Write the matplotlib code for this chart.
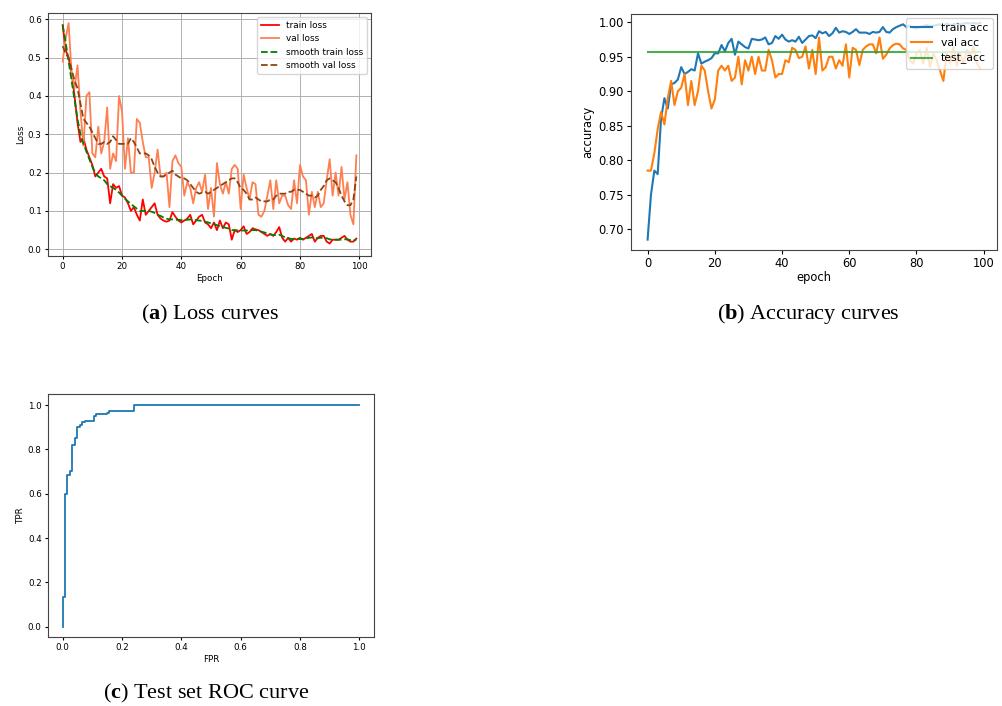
import matplotlib
matplotlib.use('Agg')
import matplotlib.pyplot as plt
import numpy as np

plt.rcParams['mathtext.fontset'] = 'custom'
plt.rcParams['mathtext.rm'] = 'Liberation Serif'
plt.rcParams['mathtext.bf'] = 'Liberation Serif:bold'

# ---- loss curves ----
train_loss = [0.585, 0.52, 0.50, 0.46, 0.40, 0.33, 0.28, 0.29, 0.26, 0.24,
              0.22, 0.19, 0.20, 0.21, 0.19, 0.185, 0.12, 0.17, 0.16, 0.165,
              0.14, 0.135, 0.12, 0.10, 0.11, 0.09, 0.075, 0.13, 0.09, 0.10,
              0.11, 0.12, 0.09, 0.08, 0.075, 0.072, 0.075, 0.097, 0.085, 0.075,
              0.07, 0.075, 0.08, 0.09, 0.065, 0.075, 0.085, 0.09, 0.07, 0.065,
              0.055, 0.07, 0.05, 0.075, 0.055, 0.07, 0.065, 0.025, 0.05, 0.045,
              0.05, 0.06, 0.04, 0.045, 0.055, 0.052, 0.05, 0.045, 0.04, 0.035,
              0.04, 0.035, 0.045, 0.058, 0.03, 0.02, 0.03, 0.02, 0.028, 0.025,
              0.03, 0.025, 0.03, 0.035, 0.04, 0.02, 0.03, 0.035, 0.035, 0.02,
              0.015, 0.025, 0.025, 0.025, 0.03, 0.035, 0.025, 0.02, 0.02, 0.028]
val_loss = [0.49, 0.55, 0.59, 0.46, 0.42, 0.48, 0.36, 0.27, 0.40, 0.41,
            0.25, 0.24, 0.32, 0.25, 0.28, 0.37, 0.21, 0.25, 0.23, 0.40,
            0.36, 0.21, 0.29, 0.20, 0.20, 0.34, 0.33, 0.28, 0.24, 0.24,
            0.16, 0.20, 0.26, 0.19, 0.19, 0.20, 0.11, 0.23, 0.245, 0.225,
            0.215, 0.14, 0.175, 0.16, 0.12, 0.16, 0.175, 0.15, 0.195, 0.105,
            0.16, 0.085, 0.225, 0.17, 0.145, 0.175, 0.145, 0.21, 0.22, 0.21,
            0.105, 0.195, 0.16, 0.13, 0.175, 0.17, 0.09, 0.085, 0.10, 0.14,
            0.18, 0.105, 0.18, 0.12, 0.14, 0.14, 0.115, 0.105, 0.18, 0.12,
            0.22, 0.19, 0.18, 0.09, 0.15, 0.11, 0.15, 0.11, 0.12, 0.18,
            0.235, 0.14, 0.20, 0.14, 0.215, 0.13, 0.175, 0.09, 0.065, 0.245]
smooth_train = [0.585, 0.54, 0.49, 0.44, 0.39, 0.34, 0.30, 0.275, 0.255, 0.235,
                0.215, 0.20, 0.19, 0.185, 0.18, 0.17, 0.165, 0.16, 0.155, 0.148,
                0.14, 0.132, 0.125, 0.118, 0.112, 0.106, 0.10, 0.10, 0.10, 0.10,
                0.098, 0.095, 0.09, 0.087, 0.083, 0.08, 0.078, 0.078, 0.077, 0.077,
                0.076, 0.076, 0.077, 0.078, 0.077, 0.076, 0.075, 0.074, 0.072, 0.07,
                0.068, 0.066, 0.063, 0.06, 0.058, 0.056, 0.054, 0.05, 0.05, 0.049,
                0.049, 0.049, 0.049, 0.049, 0.05, 0.05, 0.048, 0.046, 0.044, 0.041,
                0.039, 0.037, 0.037, 0.038, 0.035, 0.031, 0.029, 0.027, 0.027, 0.027,
                0.027, 0.027, 0.028, 0.03, 0.031, 0.029, 0.029, 0.03, 0.03, 0.029,
                0.026, 0.025, 0.025, 0.025, 0.025, 0.026, 0.026, 0.024, 0.023, 0.025]
smooth_val = [0.53, 0.51, 0.50, 0.47, 0.44, 0.42, 0.38, 0.34, 0.33, 0.32,
              0.305, 0.29, 0.275, 0.275, 0.28, 0.275, 0.28, 0.295, 0.285, 0.275,
              0.275, 0.275, 0.275, 0.29, 0.28, 0.265, 0.25, 0.25, 0.25, 0.245,
              0.235, 0.215, 0.20, 0.19, 0.19, 0.195, 0.20, 0.205, 0.195, 0.19,
              0.185, 0.185, 0.18, 0.17, 0.16, 0.15, 0.145, 0.148, 0.15, 0.145,
              0.15, 0.155, 0.16, 0.165, 0.17, 0.175, 0.18, 0.185, 0.185, 0.175,
              0.16, 0.155, 0.145, 0.13, 0.13, 0.135, 0.13, 0.125, 0.125, 0.125,
              0.13, 0.13, 0.14, 0.145, 0.145, 0.145, 0.15, 0.15, 0.155, 0.155,
              0.155, 0.15, 0.145, 0.14, 0.14, 0.135, 0.14, 0.155, 0.165, 0.18,
              0.185, 0.18, 0.175, 0.16, 0.14, 0.125, 0.115, 0.115, 0.13, 0.19]

# ---- accuracy curves ----
train_acc = [0.685, 0.75, 0.785, 0.78, 0.86, 0.89, 0.875, 0.91, 0.912, 0.917,
             0.935, 0.925, 0.928, 0.932, 0.930, 0.955, 0.94, 0.943, 0.945, 0.948,
             0.955, 0.955, 0.967, 0.958, 0.970, 0.976, 0.953, 0.972, 0.968, 0.964,
             0.962, 0.976, 0.975, 0.974, 0.975, 0.978, 0.968, 0.970, 0.980, 0.976,
             0.982, 0.975, 0.972, 0.974, 0.972, 0.979, 0.970, 0.975, 0.980, 0.981,
             0.977, 0.987, 0.984, 0.986, 0.980, 0.984, 0.992, 0.985, 0.987, 0.986,
             0.983, 0.986, 0.990, 0.985, 0.985, 0.985, 0.983, 0.986, 0.985, 0.986,
             0.993, 0.986, 0.985, 0.990, 0.993, 0.995, 0.997, 0.993, 0.995, 0.992,
             0.991, 0.993, 0.994, 0.996, 0.994, 0.995, 0.996, 0.997, 0.995, 0.998,
             0.996, 0.997, 0.998, 0.997, 0.998, 0.999, 0.998, 0.999, 0.998, 0.999]
val_acc = [0.785, 0.785, 0.81, 0.845, 0.87, 0.852, 0.89, 0.915, 0.88, 0.90,
           0.905, 0.925, 0.88, 0.915, 0.88, 0.90, 0.937, 0.93, 0.90, 0.875,
           0.888, 0.93, 0.937, 0.93, 0.937, 0.915, 0.92, 0.95, 0.91, 0.945,
           0.93, 0.95, 0.925, 0.95, 0.93, 0.93, 0.96, 0.945, 0.92, 0.925,
           0.925, 0.945, 0.942, 0.963, 0.96, 0.948, 0.95, 0.965, 0.933, 0.96,
           0.925, 0.978, 0.93, 0.935, 0.95, 0.95, 0.933, 0.945, 0.937, 0.968,
           0.92, 0.963, 0.96, 0.938, 0.96, 0.965, 0.968, 0.968, 0.955, 0.978,
           0.947, 0.953, 0.962, 0.967, 0.969, 0.968, 0.962, 0.96, 0.945, 0.94,
           0.955, 0.96, 0.94, 0.963, 0.935, 0.955, 0.945, 0.93, 0.915, 0.955,
           0.94, 0.965, 0.937, 0.955, 0.94, 0.96, 0.95, 0.965, 0.94, 0.933]
test_acc = 0.957

# ---- ROC curve corners ----
fpr = [0.0, 0.0, 0.007, 0.007, 0.016, 0.016, 0.024, 0.024, 0.032, 0.032,
       0.040, 0.040, 0.049, 0.049, 0.057, 0.057, 0.065, 0.065, 0.074, 0.074,
       0.107, 0.107, 0.114, 0.114, 0.148, 0.148, 0.157, 0.157, 0.240, 0.240, 1.0]
tpr = [0.0, 0.135, 0.135, 0.60, 0.60, 0.684, 0.684, 0.702, 0.702, 0.82,
       0.82, 0.85, 0.85, 0.90, 0.90, 0.91, 0.91, 0.922, 0.922, 0.928,
       0.928, 0.95, 0.95, 0.96, 0.96, 0.965, 0.965, 0.975, 0.975, 1.0, 1.0]

epochs = np.arange(len(train_loss))

fig = plt.figure(figsize=(10.02, 7.06), dpi=100)

# (a) loss
ax1 = fig.add_axes([0.0479, 0.6374, 0.3224, 0.3442])
ax1.plot(epochs, train_loss, color='red', lw=1.3, label='train loss')
ax1.plot(epochs, val_loss, color='coral', lw=1.3, label='val loss')
ax1.plot(epochs, smooth_train, color='green', lw=1.3, ls='--', label='smooth train loss')
ax1.plot(epochs, smooth_val, color='saddlebrown', lw=1.3, ls='--', label='smooth val loss')
ax1.set_xlim(-4.95, 103.95)
ax1.set_ylim(-0.0175, 0.6165)
ax1.grid(True, color='#b0b0b0', lw=0.7)
ax1.set_xlabel('Epoch', fontsize=6.3, labelpad=2)
ax1.set_ylabel('Loss', fontsize=6.3, labelpad=2)
ax1.tick_params(labelsize=6.3, length=2.5, pad=2)
ax1.legend(loc='upper right', fontsize=6.4, framealpha=0.8)

# (b) accuracy
ax2 = fig.add_axes([0.6297, 0.6459, 0.3653, 0.3343])
ax2.plot(epochs, train_acc, color='tab:blue', lw=1.5, label='train acc')
ax2.plot(epochs, val_acc, color='tab:orange', lw=1.5, label='val acc')
ax2.plot(epochs, [test_acc] * len(epochs), color='tab:green', lw=1.5, alpha=0.85, label='test_acc')
ax2.set_xlim(-4.95, 103.95)
ax2.set_ylim(0.670, 1.012)
ax2.set_xlabel('epoch', fontsize=8.3, labelpad=1)
ax2.set_ylabel('accuracy', fontsize=8.3, labelpad=3)
ax2.tick_params(labelsize=8.3, length=3, pad=2)
ax2.legend(loc='upper right', fontsize=7.8, framealpha=0.8, borderaxespad=0.4)

# (c) ROC
ax3 = fig.add_axes([0.0479, 0.0977, 0.3253, 0.3442])
ax3.plot(fpr, tpr, color='tab:blue', lw=1.3)
ax3.set_xlim(-0.0495, 1.0495)
ax3.set_ylim(-0.0465, 1.0496)
ax3.set_xlabel('FPR', fontsize=6.3, labelpad=2)
ax3.set_ylabel('TPR', fontsize=6.3, labelpad=2)
ax3.tick_params(labelsize=6.3, length=2.5, pad=2)

for ax in (ax1, ax2, ax3):
    for s in ax.spines.values():
        s.set_edgecolor('#444444')

# captions
cap = dict(family='Liberation Serif', fontsize=16, ha='center', va='center')
fig.text(210 / 1002, 1 - 314 / 706, r'($\mathbf{a}$) Loss curves', **cap)
fig.text(808 / 1002, 1 - 314 / 706, r'($\mathbf{b}$) Accuracy curves', **cap)
fig.text(206 / 1002, 1 - 693 / 706, r'($\mathbf{c}$) Test set ROC curve', **cap)

fig.savefig('out.png', dpi=100)
